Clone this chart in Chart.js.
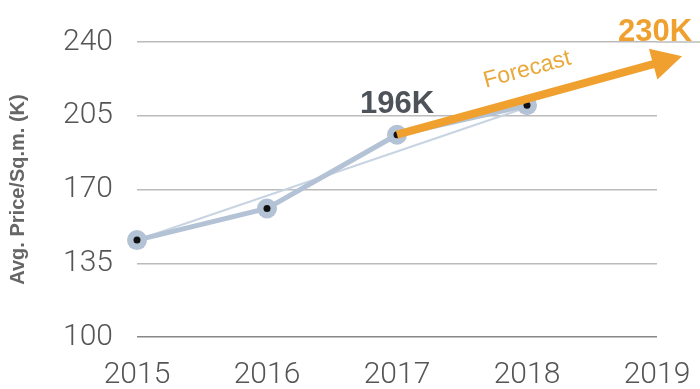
<!DOCTYPE html>
<html>
<head>
<meta charset="utf-8">
<script src="https://cdn.jsdelivr.net/npm/chart.js@4/dist/chart.umd.min.js"></script>
<style>
    html, body { margin: 0; padding: 0; background: #fff; }
    #wrap { width: 700px; height: 389px; }
</style>
</head>
<body>
<div id="wrap"><canvas id="priceChart" width="700" height="389"></canvas></div>
<script>
const years = ['2015', '2016', '2017', '2018', '2019'];
const actualPrice = [146, 161, 196, 210, null];
const trendPrice = [146, null, null, 209, null];
const forecastPrice = [null, null, 196, null, 230];
const yTicks = [100, 135, 170, 205, 240];
const labelActual = '196K';
const labelForecast = '230K';

const blue = '#b3c2d5';
const orange = '#efa02e';

// labels + arrow head drawn on top of the lines
const forecastDecor = {
    id: 'forecastDecor',
    afterDraw(chart) {
        const ctx = chart.ctx;
        const x = chart.scales.x, y = chart.scales.y;
        const pts = chart.getDatasetMeta(0).data;
        const p1 = pts[2], p2 = pts[4];
        const dx = p2.x - p1.x, dy = p2.y - p1.y;
        const len = Math.sqrt(dx * dx + dy * dy);
        const ux = dx / len, uy = dy / len;

        // extend the top gridline under the end label
        ctx.save();
        ctx.strokeStyle = '#bbbbbb';
        ctx.lineWidth = 1.5;
        ctx.beginPath();
        ctx.moveTo(chart.chartArea.right, y.getPixelForValue(240));
        ctx.lineTo(chart.width, y.getPixelForValue(240));
        ctx.stroke();

        // arrow head
        const head = 30, half = 16;
        const bx = p2.x - ux * 4, by = p2.y - uy * 4;
        ctx.fillStyle = orange;
        ctx.beginPath();
        ctx.moveTo(bx + ux * head, by + uy * head);
        ctx.lineTo(bx - uy * half, by + ux * half);
        ctx.lineTo(bx + uy * half, by - ux * half);
        ctx.closePath();
        ctx.fill();

        ctx.textAlign = 'center';
        ctx.textBaseline = 'alphabetic';
        ctx.font = 'bold 31px "Liberation Sans", Arial, sans-serif';
        ctx.fillStyle = '#4e535a';
        ctx.fillText(labelActual, x.getPixelForValue(2), y.getPixelForValue(actualPrice[2]) - 22);
        ctx.fillStyle = orange;
        ctx.fillText(labelForecast, x.getPixelForValue(4) - 2, y.getPixelForValue(forecastPrice[4]) - 22);

        // "Forecast" along the arrow
        const mx = x.getPixelForValue(3);
        const my = p1.y + (mx - p1.x) * dy / dx;
        ctx.translate(mx + uy * 28, my - ux * 28);
        ctx.rotate(Math.atan2(dy, dx));
        ctx.font = '23px "Liberation Sans", Arial, sans-serif';
        ctx.fillStyle = '#e9a83c';
        ctx.textBaseline = 'middle';
        ctx.fillText('Forecast', 8, 0);
        ctx.restore();
    }
};

new Chart(document.getElementById('priceChart'), {
    type: 'line',
    data: {
        labels: years,
        datasets: [{
            label: 'Forecast',
            data: forecastPrice,
            borderColor: orange,
            borderWidth: 8,
            borderCapStyle: 'butt',
            pointRadius: 0,
            spanGaps: true,
            order: 0
        }, {
            label: 'dots',
            data: actualPrice,
            showLine: false,
            pointRadius: 3.5,
            pointBackgroundColor: '#111',
            pointBorderWidth: 0,
            order: 1
        }, {
            label: 'Price',
            data: actualPrice,
            borderColor: blue,
            borderWidth: 5,
            pointRadius: 10,
            pointBackgroundColor: blue,
            pointBorderWidth: 0,
            order: 2
        }, {
            label: 'Trend',
            data: trendPrice,
            borderColor: '#c8d4e2',
            borderWidth: 2,
            pointRadius: 0,
            spanGaps: true,
            order: 3
        }]
    },
    options: {
        responsive: false,
        animation: false,
        layout: { padding: { top: 40, right: 43, left: 0, bottom: 0 } },
        plugins: {
            legend: { display: false },
            tooltip: { enabled: false }
        },
        scales: {
            x: {
                offset: false,
                grid: { display: false, drawTicks: false },
                border: { display: false },
                ticks: {
                    padding: 20,
                    color: '#555',
                    font: { family: 'Roboto', weight: 300, size: 30 },
                    maxRotation: 0
                },
                afterFit(scale) {
                    scale.height = 52;
                    scale.paddingLeft = 0;
                    scale.paddingRight = 0;
                }
            },
            y: {
                min: 100,
                max: 240,
                afterBuildTicks(scale) { scale.ticks = yTicks.map(v => ({ value: v })); },
                grid: {
                    drawTicks: false,
                    color: ctx => ctx.tick && ctx.tick.value === 100 ? '#888' : '#bbbbbb',
                    lineWidth: 1.5
                },
                border: { display: false },
                ticks: {
                    padding: 24,
                    color: '#555',
                    font: { family: 'Roboto', weight: 300, size: 30 }
                },
                title: {
                    display: true,
                    text: 'Avg. Price/Sq.m. (K)',
                    color: '#666',
                    font: { family: '"Liberation Sans", Arial, sans-serif', weight: 'bold', size: 20 },
                    padding: { top: 6, bottom: 0 }
                },
                afterFit(scale) { scale.width = 137; }
            }
        }
    },
    plugins: [forecastDecor]
});
</script>
</body>
</html>
